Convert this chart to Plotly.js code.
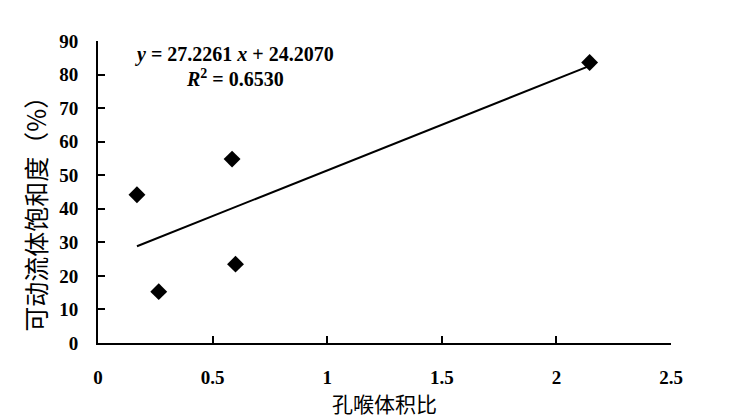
<!DOCTYPE html>
<html>
<head>
<meta charset="utf-8">
<script src="https://cdn.plot.ly/plotly-3.0.1.min.js"></script>
<style>html,body{margin:0;padding:0;background:#fff;}#chart{width:735px;height:419px;}</style>
</head>
<body>
<div id="chart"></div>
<script>
// Data
const poreThroatRatio = [0.17, 0.265, 0.585, 0.60, 2.145];
const movableFluidSaturation = [44.2, 15.3, 54.8, 23.5, 83.6];
const fitSlope = 27.2261;
const fitIntercept = 24.2070;
const rSquared = 0.6530;
const xTickVals = [0, 0.5, 1, 1.5, 2, 2.5];
const xTickText = ['0', '0.5', '1', '1.5', '2', '2.5'];
const yTickVals = [0, 10, 20, 30, 40, 50, 60, 70, 80, 90];
const xTitle = '孔喉体积比';
const yTitle = '可动流体饱和度（%）';

const fitX = [Math.min(...poreThroatRatio), Math.max(...poreThroatRatio)];
const fitY = fitX.map(v => fitSlope * v + fitIntercept);

const serif = 'Liberation Serif, Times New Roman, serif';
const cjk = 'Noto Sans CJK SC, sans-serif';

const traces = [
  {
    x: fitX, y: fitY, type: 'scatter', mode: 'lines',
    line: {color: '#000', width: 2}, hoverinfo: 'skip', showlegend: false
  },
  {
    x: poreThroatRatio, y: movableFluidSaturation, type: 'scatter', mode: 'markers',
    marker: {symbol: 'diamond', size: 13, color: '#000'}, showlegend: false
  }
];

const layout = {
  width: 735, height: 419,
  margin: {l: 98, r: 64, t: 41, b: 76, pad: 0},
  paper_bgcolor: '#fff', plot_bgcolor: '#fff',
  showlegend: false,
  xaxis: {
    range: [0, 2.5], tickvals: xTickVals, ticktext: xTickText,
    showgrid: false, zeroline: false, showline: true, linecolor: '#000', linewidth: 2,
    ticks: 'inside', ticklen: 7, tickwidth: 2, tickcolor: '#000',
    ticklabelstandoff: 16,
    tickfont: {family: serif, size: 19, color: '#000', weight: 'bold'}
  },
  yaxis: {
    range: [0, 90], tickvals: yTickVals,
    showgrid: false, zeroline: false, showline: true, linecolor: '#000', linewidth: 2,
    ticks: 'inside', ticklen: 7, tickwidth: 2, tickcolor: '#000',
    ticklabelstandoff: 14,
    tickfont: {family: serif, size: 19, color: '#000', weight: 'bold'}
  },
  annotations: [
    {
      text: yTitle, xref: 'paper', yref: 'paper', x: -0.11, y: 0.448,
      xanchor: 'center', yanchor: 'middle', textangle: -90, showarrow: false,
      font: {family: cjk, size: 25, color: '#000'}
    },
    {
      text: xTitle, xref: 'paper', yref: 'paper', x: 0.5, y: -0.2,
      xanchor: 'center', yanchor: 'middle', showarrow: false,
      font: {family: cjk, size: 21, color: '#000'}
    },
    {
      text: '<b><i>y</i> = ' + fitSlope.toFixed(4) + ' <i>x</i> + ' + fitIntercept.toFixed(4) + '</b>',
      xref: 'paper', yref: 'paper', x: 0.239, y: 0.954,
      xanchor: 'center', yanchor: 'middle', showarrow: false,
      font: {family: serif, size: 20, color: '#000'}
    },
    {
      text: '<b><i>R</i><sup>2</sup> = ' + rSquared.toFixed(4) + '</b>',
      xref: 'paper', yref: 'paper', x: 0.239, y: 0.877,
      xanchor: 'center', yanchor: 'middle', showarrow: false,
      font: {family: serif, size: 20, color: '#000'}
    }
  ]
};

Plotly.newPlot('chart', traces, layout, {displayModeBar: false, staticPlot: true});
</script>
</body>
</html>
